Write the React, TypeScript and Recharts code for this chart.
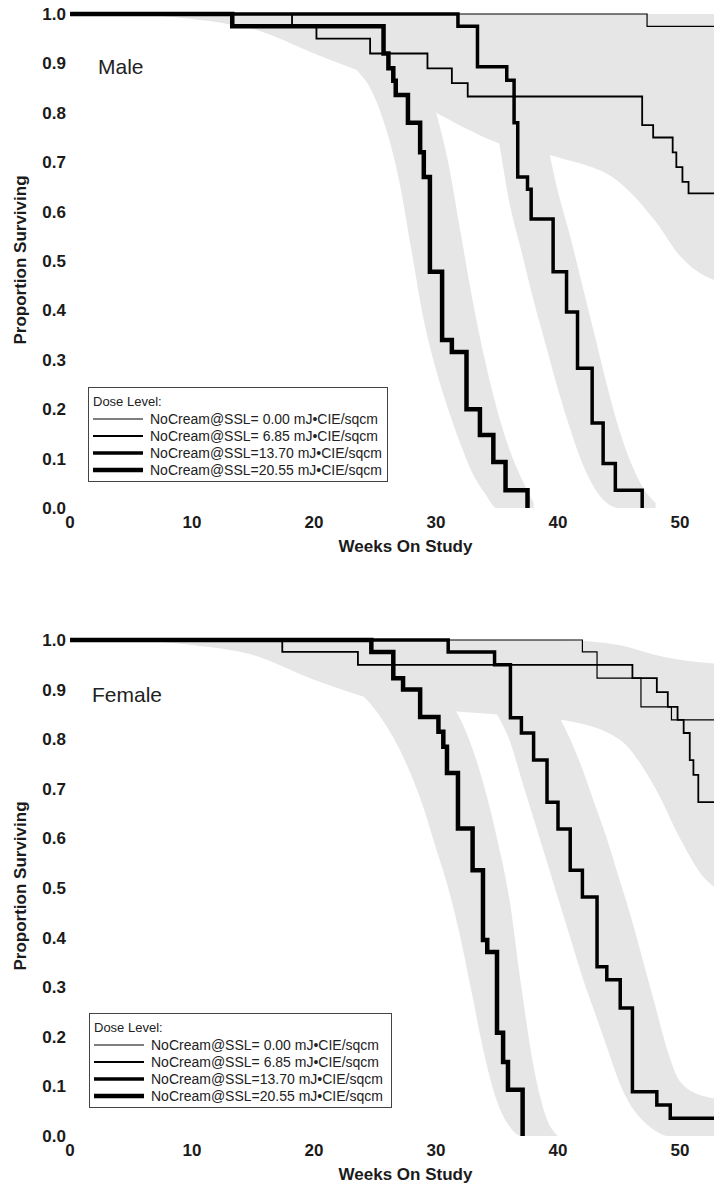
import React from "react";
import { ComposedChart, Line, Area, XAxis, YAxis } from "recharts";

// Kaplan-Meier steps: [week, proportion surviving]
const MALE_0 = [[0, 1], [47.3, 0.975], [55, 0.975]];
const MALE_1 = [
  [0, 1], [18.2, 0.975], [20.2, 0.95], [24.6, 0.92], [29.3, 0.89], [31.3, 0.86],
  [32.6, 0.833], [46.9, 0.775], [47.8, 0.75], [49.4, 0.72], [49.7, 0.69],
  [50.2, 0.66], [50.7, 0.637], [55, 0.637],
];
const MALE_2 = [
  [0, 1], [31.8, 0.975], [33.4, 0.893], [35.8, 0.866], [36.4, 0.78], [36.7, 0.67],
  [37.5, 0.645], [37.8, 0.585], [39.6, 0.478], [40.7, 0.397], [41.6, 0.283],
  [42.8, 0.172], [43.7, 0.09], [44.7, 0.036], [46.9, 0],
];
const MALE_3 = [
  [0, 1], [13.3, 0.975], [25.7, 0.92], [26.1, 0.89], [26.5, 0.865], [26.7, 0.836],
  [27.7, 0.78], [28.7, 0.72], [29.0, 0.67], [29.5, 0.478], [30.5, 0.34],
  [31.3, 0.316], [32.5, 0.2], [33.6, 0.148], [34.7, 0.093], [35.7, 0.036], [37.5, 0],
];

const FEMALE_0 = [[0, 1], [42.0, 0.976], [43.2, 0.923], [46.8, 0.865], [49.3, 0.839], [55, 0.839]];
const FEMALE_1 = [
  [0, 1], [17.4, 0.976], [23.6, 0.95], [46.1, 0.923], [48.1, 0.895], [49.0, 0.865],
  [49.8, 0.839], [50.3, 0.8125], [50.8, 0.758], [51.1, 0.728], [51.5, 0.673], [55, 0.673],
];
const FEMALE_2 = [
  [0, 1], [31.0, 0.976], [34.8, 0.95], [36.1, 0.843], [37.0, 0.8125], [38.0, 0.758],
  [39.1, 0.673], [40.0, 0.619], [41.0, 0.536], [42.0, 0.482], [43.2, 0.341],
  [44.0, 0.315], [45.1, 0.258], [46.1, 0.089], [48.1, 0.0625], [49.2, 0.036], [55, 0.036],
];
const FEMALE_3 = [
  [0, 1], [24.7, 0.976], [26.5, 0.923], [27.3, 0.9], [28.7, 0.845], [30.2, 0.815],
  [30.6, 0.785], [30.9, 0.732], [31.8, 0.62], [33.0, 0.536], [33.85, 0.395],
  [34.2, 0.371], [35.0, 0.208], [35.5, 0.149], [35.9, 0.093], [37.1, 0],
];

// confidence bands: [week, lower, upper]
const MALE_BAND_0 = [[0, 1, 1], [10, 0.995, 1], [20, 0.98, 1], [30, 0.96, 1], [40, 0.94, 1], [47, 0.92, 1], [50, 0.9, 1], [55, 0.9, 1]];
const MALE_BAND_1 = [
  [5, 1, 1], [10, 0.99, 1], [15, 0.97, 1], [20, 0.92, 1], [25, 0.87, 0.99], [30, 0.8, 0.98],
  [35, 0.74, 0.97], [40, 0.71, 0.96], [45, 0.66, 0.95], [48, 0.58, 0.94], [50, 0.51, 0.93],
  [52, 0.47, 0.92], [55, 0.45, 0.92],
];
const MALE_BAND_2 = [
  [28, 1, 1], [30, 0.97, 1], [32, 0.92, 1], [34, 0.84, 0.99], [35, 0.76, 0.98], [36, 0.62, 0.95],
  [37, 0.52, 0.91], [38, 0.42, 0.84], [39, 0.33, 0.75], [40, 0.24, 0.64], [41, 0.16, 0.55],
  [42, 0.09, 0.45], [43, 0.04, 0.35], [44, 0.01, 0.25], [45, 0, 0.16], [46, 0, 0.09],
  [47, 0, 0.04], [48, 0, 0.01],
];
const MALE_BAND_3 = [
  [10, 0.995, 1], [15, 0.97, 1], [20, 0.95, 0.995], [23, 0.9, 0.99], [25, 0.83, 0.985],
  [26, 0.76, 0.975], [27, 0.66, 0.95], [28, 0.52, 0.92], [29, 0.38, 0.87], [30, 0.28, 0.8],
  [31, 0.2, 0.7], [32, 0.13, 0.56], [33, 0.07, 0.42], [34, 0.03, 0.3], [35, 0, 0.2],
  [36, 0, 0.12], [37, 0, 0.06], [38, 0, 0.01],
];

const FEMALE_BAND_0 = [[0, 1, 1], [10, 0.995, 1], [20, 0.985, 1], [30, 0.97, 1], [40, 0.94, 1], [45, 0.86, 0.99], [48, 0.8, 0.97], [50, 0.75, 0.96], [55, 0.7, 0.95]];
const FEMALE_BAND_1 = [
  [5, 1, 1], [10, 0.99, 1], [15, 0.97, 1], [20, 0.92, 1], [25, 0.88, 1], [30, 0.86, 0.99],
  [35, 0.85, 0.99], [40, 0.84, 0.99], [45, 0.8, 0.98], [48, 0.7, 0.95], [50, 0.6, 0.93],
  [52, 0.52, 0.9], [55, 0.48, 0.88],
];
const FEMALE_BAND_2 = [
  [27, 1, 1], [30, 0.98, 1], [33, 0.92, 1], [35, 0.85, 0.99], [36, 0.8, 0.98], [37, 0.72, 0.97],
  [38, 0.64, 0.94], [39, 0.56, 0.9], [40, 0.48, 0.85], [41, 0.4, 0.8], [42, 0.32, 0.74],
  [43, 0.25, 0.67], [44, 0.18, 0.6], [45, 0.11, 0.52], [46, 0.06, 0.44], [47, 0.03, 0.35],
  [48, 0.01, 0.26], [49, 0, 0.17], [50, 0, 0.11], [52, 0, 0.08], [55, 0, 0.07],
];
const FEMALE_BAND_3 = [
  [10, 0.995, 1], [15, 0.98, 1], [20, 0.95, 1], [23, 0.91, 1], [25, 0.86, 0.995],
  [27, 0.78, 0.98], [29, 0.66, 0.95], [30, 0.58, 0.92], [31, 0.5, 0.88], [32, 0.4, 0.84],
  [33, 0.28, 0.78], [34, 0.16, 0.7], [35, 0.07, 0.6], [36, 0.02, 0.48], [37, 0, 0.3],
  [38, 0, 0.14], [39, 0, 0.04], [40, 0, 0],
];

const DOSE_LABELS = [
  "NoCream@SSL= 0.00 mJ•CIE/sqcm",
  "NoCream@SSL= 6.85 mJ•CIE/sqcm",
  "NoCream@SSL=13.70 mJ•CIE/sqcm",
  "NoCream@SSL=20.55 mJ•CIE/sqcm",
];
const X_TICKS = [0, 10, 20, 30, 40, 50];
const Y_TICKS = [0, 0.1, 0.2, 0.3, 0.4, 0.5, 0.6, 0.7, 0.8, 0.9, 1.0];

const LINE_WIDTHS = [1.2, 1.8, 3.5, 4.5];
const FONT = "'Liberation Sans', Arial, Helvetica, sans-serif";
const tickStyle = { fontSize: 17, fontWeight: 700, fill: "#1b1b1b", fontFamily: FONT };

const toSteps = (pts: number[][]) => pts.map(([w, p]) => ({ w, p }));
const toBand = (pts: number[][]) => pts.map(([w, lo, hi]) => ({ w, range: [lo, hi] }));

function DoseLegend({ left, top, width }: { left: number; top: number; width: number }) {
  return (
    <div
      style={{
        position: "absolute",
        left,
        top,
        width,
        border: "1px solid #444",
        background: "#fff",
        padding: "6px 0 3px 4px",
        boxSizing: "border-box",
        fontFamily: FONT,
        color: "#222",
      }}
    >
      <div style={{ fontSize: 13, lineHeight: "16px" }}>Dose Level:</div>
      {DOSE_LABELS.map((label, i) => (
        <div key={label} style={{ display: "flex", alignItems: "center", height: 17 }}>
          <svg width={50} height={8} style={{ marginRight: 7 }}>
            <line x1={0} y1={4} x2={50} y2={4} stroke="#000" strokeWidth={LINE_WIDTHS[i]} />
          </svg>
          <span style={{ fontSize: 14, whiteSpace: "nowrap" }}>{label}</span>
        </div>
      ))}
    </div>
  );
}

function Panel({
  top,
  height,
  curves,
  bands,
}: {
  top: number;
  height: number;
  curves: number[][][];
  bands: number[][][];
}) {
  return (
    <div style={{ position: "absolute", left: 0, top }}>
      <ComposedChart width={760} height={height} margin={{ top: 14, right: 19, bottom: 0, left: 0 }}>
        <XAxis
          type="number"
          dataKey="w"
          domain={[0, 55]}
          ticks={X_TICKS}
          axisLine={false}
          tickLine={false}
          height={52}
          tick={tickStyle}
          label={{
            value: "Weeks On Study",
            position: "insideBottom",
            offset: 8,
            fontSize: 17,
            fontWeight: 700,
            fill: "#1b1b1b",
            fontFamily: FONT,
          }}
        />
        <YAxis
          type="number"
          domain={[0, 1]}
          ticks={Y_TICKS}
          tickFormatter={(v: number) => v.toFixed(1)}
          axisLine={false}
          tickLine={false}
          width={70}
          tickSize={4}
          tickMargin={0}
          tick={tickStyle}
        />
        {bands.map((b, i) => (
          <Area
            key={`band-${i}`}
            data={toBand(b)}
            dataKey="range"
            type="monotone"
            fill="#e6e6e6"
            fillOpacity={1}
            stroke="none"
            dot={false}
            activeDot={false}
            isAnimationActive={false}
          />
        ))}
        {curves.map((c, i) => (
          <Line
            key={`curve-${i}`}
            data={toSteps(c)}
            dataKey="p"
            type="stepAfter"
            stroke="#000"
            strokeWidth={LINE_WIDTHS[i]}
            dot={false}
            activeDot={false}
            isAnimationActive={false}
          />
        ))}
      </ComposedChart>
    </div>
  );
}

const yTitle = (top: number) => (
  <div
    style={{
      position: "absolute",
      left: 21,
      top,
      transform: "translate(-50%, -50%) rotate(-90deg)",
      whiteSpace: "nowrap",
      fontFamily: FONT,
      fontSize: 17,
      fontWeight: 700,
      color: "#1b1b1b",
    }}
  >
    Proportion Surviving
  </div>
);

const panelLabel = (text: string, left: number, top: number) => (
  <div
    style={{
      position: "absolute",
      left,
      top,
      transform: "translateY(-50%)",
      fontFamily: FONT,
      fontSize: 21,
      color: "#222",
      whiteSpace: "nowrap",
    }}
  >
    {text}
  </div>
);

export default function App() {
  return (
    <div
      style={{
        position: "absolute",
        left: 0,
        top: 0,
        width: 714,
        height: 1189,
        overflow: "hidden",
        background: "#fff",
        fontFamily: FONT,
      }}
    >
      <Panel
        top={0}
        height={560}
        curves={[MALE_0, MALE_1, MALE_2, MALE_3]}
        bands={[MALE_BAND_0, MALE_BAND_1, MALE_BAND_2, MALE_BAND_3]}
      />
      <Panel
        top={626}
        height={562}
        curves={[FEMALE_0, FEMALE_1, FEMALE_2, FEMALE_3]}
        bands={[FEMALE_BAND_0, FEMALE_BAND_1, FEMALE_BAND_2, FEMALE_BAND_3]}
      />
      {yTitle(260)}
      {yTitle(886)}
      {panelLabel("Male", 98, 67)}
      {panelLabel("Female", 92, 695)}
      <DoseLegend left={88} top={387} width={300} />
      <DoseLegend left={89} top={1013} width={303} />
    </div>
  );
}
